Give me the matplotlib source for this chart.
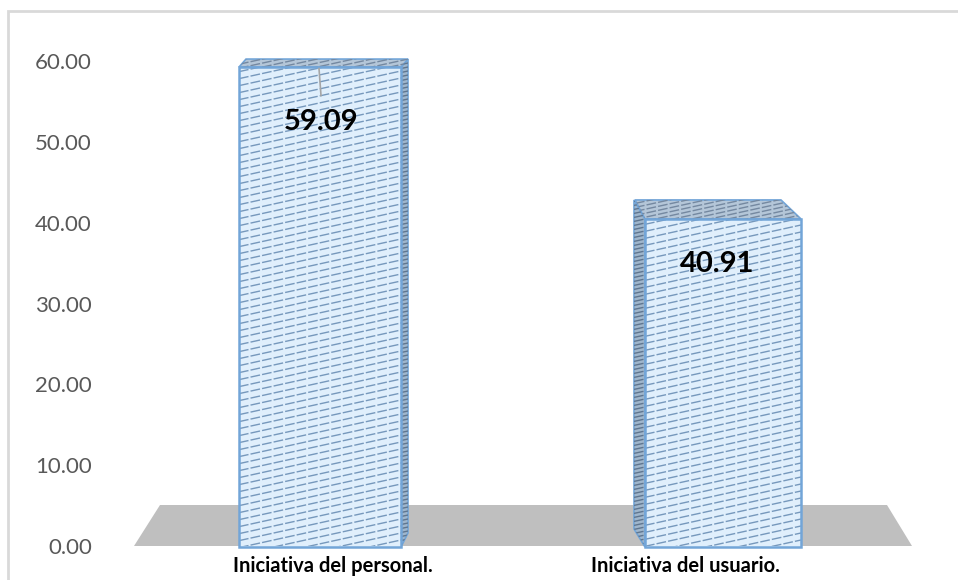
import numpy as np
import matplotlib
matplotlib.use('Agg')
import matplotlib.pyplot as plt
from matplotlib.patches import Polygon, Rectangle

categories = ['Iniciativa del personal.', 'Iniciativa del usuario.']
values = [59.09, 40.91]
value_labels = ['59.09', '40.91']
y_ticks = [0, 10, 20, 30, 40, 50, 60]

W, H = 958, 580
PX = 8.08  # pixels per unit on y
fig = plt.figure(figsize=(W / 100, H / 100), dpi=100)
plt.rcParams['font.family'] = ['Lato', 'DejaVu Sans']

# axes spans 119..923 px across, y=0 sits at 546 px from top
top_px = 30
ax = fig.add_axes([119 / W, (H - 546) / H, 804 / W, (546 - top_px) / H])
ax.set_xlim(-0.5, 1.5)
ax.set_ylim(0, (546 - top_px) / PX)
for s in ax.spines.values():
    s.set_visible(False)
ax.patch.set_alpha(0)

UX = 402.0  # pixels per category


def dx(p):
    return p / UX


def dy(p):
    return p / PX


ax.set_yticks(y_ticks)
ax.set_yticklabels(['%.2f' % t for t in y_ticks], color='#595959', fontsize=16)
ax.tick_params(axis='y', length=0, pad=19.5)
# the labels do not sit under the bar centres in the original
ax.set_xticks([0 + dx(13), 1 - dx(37)])
ax.set_xticklabels(categories, fontweight='bold', fontsize=14.5, color='black')
ax.tick_params(axis='x', length=0, pad=7)

# outer frame
fig.add_artist(Rectangle((8 / W, -0.01), 1.0, (H - 11) / H + 0.01, transform=fig.transFigure,
                         fill=False, ec='#d9d9d9', lw=2))

# floor
floor = Polygon([(-0.5 + dx(15), dy(0)), (-0.5 + dx(41), dy(41)), (1.5 - dx(36), dy(41)), (1.5 - dx(11), dy(0))],
                closed=True, fc='#bfbfbf', ec='none', clip_on=False, zorder=1)
ax.add_patch(floor)

EDGE = '#72a5d8'
half = [dx(81), dx(78)]
centers = [0, 1 + dx(1)]
side_off = [dx(7), dx(-11)]  # right side for the first bar, left side for the second
top_rise = [dy(8), dy(19)]
lift = [dy(1.5), dy(-3.5)]
back_l = [dx(7), dx(-10)]
back_r = [dx(7), dx(-20)]


def hatch(poly, color, step, zo):
    xs = [p[0] for p in poly]
    ys = [p[1] for p in poly]
    clip = Polygon(poly, closed=True, transform=ax.transData, fc='none', ec='none', clip_on=False)
    ax.add_patch(clip)
    xa = min(xs)
    xb = max(xs)
    slope = dy(0.22) / dx(1)
    y0 = min(ys) - slope * (xb - xa)
    while y0 < max(ys):
        line, = ax.plot([xa, xb], [y0, y0 + slope * (xb - xa)], color=color, lw=1.0,
                        dashes=(7, 1.5), zorder=zo, clip_on=True)
        line.set_clip_path(clip)
        y0 += dy(step)


for i, v in enumerate(values):
    c = centers[i]
    l = c - half[i]
    r = c + half[i]
    t = v + lift[i]
    b = dy(-1)
    rise = top_rise[i]
    front = [(l, b), (r, b), (r, t), (l, t)]
    top = [(l, t), (r, t), (r + back_r[i], t + rise), (l + back_l[i], t + rise)]
    if i == 0:
        side = [(r, b), (r + side_off[i], b + dy(14)), (r + side_off[i], t + rise), (r, t)]
    else:
        side = [(l, b), (l + side_off[i], b + dy(18)), (l + side_off[i], t + rise), (l, t)]

    ax.add_patch(Polygon(side, closed=True, fc='#9fb6cc', ec=EDGE, lw=1.2, zorder=3, clip_on=False))
    hatch(side, '#5f7690', 4, 3.2)
    ax.add_patch(Polygon(top, closed=True, fc='#b4c6d8', ec=EDGE, lw=1.2, zorder=3, clip_on=False))
    hatch(top, '#7488a0', 4, 3.2)
    ax.add_patch(Polygon(front, closed=True, fc='#e0effc', ec='none', zorder=4, clip_on=False))
    hatch(front, '#7698bc', 7, 4.2)
    ax.add_patch(Polygon(front, closed=True, fc='none', ec=EDGE, lw=1.8, zorder=5, clip_on=False))

# data labels
ax.plot([dx(-1), dx(1)], [values[0] + dy(0), values[0] - dy(27)], color='#a6a6a6', lw=1.2, zorder=6)
ax.text(0 + dx(1), values[0] - dy(53), value_labels[0], ha='center', va='center', fontsize=21,
        fontweight='bold', color='black', zorder=7)
ax.text(1 - dx(5), values[1] - dy(49), value_labels[1], ha='center', va='center', fontsize=21,
        fontweight='bold', color='black', zorder=7)

fig.savefig('out.png', dpi=100)
